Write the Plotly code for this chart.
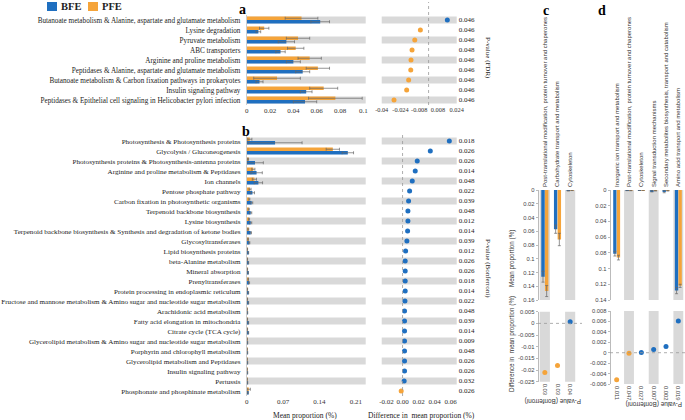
import plotly.graph_objects as go

W, H = 685, 420
BLUE = "#1F6FC0"
ORANGE = "#F5A43A"
GRAY = "#D9D9D9"
ERR = "#666666"
SERIF = "Liberation Serif, Times New Roman, serif"
SANS = "Liberation Sans, Arial, sans-serif"

# ---------------- legend ----------------
groups = ["BFE", "PFE"]
group_colors = [BLUE, ORANGE]

# ---------------- panel a ----------------
a_cats = ["Butanoate metabolism & Alanine, aspartate and glutamate metabolism",
          "Lysine degradation", "Pyruvate metabolism", "ABC transporters",
          "Arginine and proline metabolism",
          "Peptidases & Alanine, aspartate and glutamate metabolism",
          "Butanoate metabolism & Carbon fixation pathways in prokaryotes",
          "Insulin signaling pathway",
          "Peptidases & Epithelial cell signaling in Helicobacter pylori infection"]
a_bfe = [0.063, 0.010, 0.034, 0.029, 0.040, 0.048, 0.011, 0.051, 0.050]
a_bfe_err = [0.008, 0.002, 0.007, 0.004, 0.006, 0.006, 0.003, 0.005, 0.010]
a_pfe = [0.047, 0.015, 0.044, 0.042, 0.054, 0.061, 0.026, 0.066, 0.076]
a_pfe_err = [0.014, 0.004, 0.010, 0.007, 0.010, 0.010, 0.020, 0.012, 0.023]
a_diff = [0.016, -0.007, -0.0118, -0.0141, -0.015, -0.0152, -0.017, -0.0187, -0.0295]
a_p = ["0.046", "0.046", "0.046", "0.048", "0.046", "0.046", "0.046", "0.046", "0.046"]

# ---------------- panel b ----------------
b_cats = ["Photosynthesis & Photosynthesis proteins", "Glycolysis / Gluconeogenesis",
          "Photosynthesis proteins & Photosynthesis-antenna proteins",
          "Arginine and proline metabolism & Peptidases", "Ion channels",
          "Pentose phosphate pathway", "Carbon fixation in photosynthetic organisms",
          "Terpenoid backbone biosynthesis", "Lysine biosynthesis",
          "Terpenoid backbone biosynthesis & Synthesis and degradation of ketone bodies",
          "Glycosyltransferases", "Lipid biosynthesis proteins", "beta-Alanine metabolism",
          "Mineral absorption", "Prenyltransferases", "Protein processing in endoplasmic reticulum",
          "Fructose and mannose metabolism & Amino sugar and nucleotide sugar metabolism",
          "Arachidonic acid metabolism", "Fatty acid elongation in mitochondria",
          "Citrate cycle (TCA cycle)",
          "Glycerolipid metabolism & Amino sugar and nucleotide sugar metabolism",
          "Porphyrin and chlorophyll metabolism", "Glycerolipid metabolism and Peptidases",
          "Insulin signaling pathway", "Pertussis", "Phosphonate and phosphinate metabolism"]
b_bfe = [0.0546, 0.1946, 0.016, 0.019, 0.0225, 0.011, 0.0096, 0.0077, 0.0077, 0.0077,
         0.005, 0.003, 0.003, 0.0026, 0.0045, 0.003, 0.003, 0.0015, 0.003, 0.003,
         0.0015, 0.0015, 0.0015, 0.0015, 0.0015, 0.002]
b_bfe_err = [0.052, 0.011, 0.016, 0.011, 0.008, 0.004, 0.002, 0.002, 0.002, 0.0015,
             0.001, 0.0008, 0.0008, 0.0006, 0.001, 0.0008, 0.0008, 0.0005, 0.0008, 0.0008,
             0.0005, 0.0005, 0.0005, 0.0005, 0.0005, 0.0008]
b_pfe = [0.006, 0.1657, 0.0026, 0.0128, 0.0148, 0.0064, 0.005, 0.004, 0.0045, 0.003,
         0.0026, 0.0013, 0.0013, 0.0013, 0.003, 0.0013, 0.0013, 0.0008, 0.0013, 0.0013,
         0.0008, 0.0008, 0.0008, 0.0008, 0.0008, 0.004]
b_pfe_err = [0.004, 0.0128, 0.001, 0.003, 0.004, 0.002, 0.001, 0.001, 0.001, 0.001,
             0.0006, 0.0004, 0.0004, 0.0004, 0.0006, 0.0004, 0.0004, 0.0003, 0.0004, 0.0004,
             0.0003, 0.0003, 0.0003, 0.0003, 0.0003, 0.003]
b_diff = [0.0583, 0.0346, 0.0183, 0.0158, 0.0121, 0.0088, 0.0075, 0.0067, 0.0067, 0.0063,
          0.0054, 0.0038, 0.0033, 0.0033, 0.0033, 0.0033, 0.003, 0.0025, 0.0025, 0.0025,
          0.0025, 0.0025, 0.0025, 0.0025, 0.002, -0.0017]
b_p = ["0.018", "0.026", "0.026", "0.014", "0.048", "0.022", "0.039", "0.048", "0.012",
       "0.014", "0.039", "0.012", "0.026", "0.026", "0.018", "0.014", "0.022", "0.048",
       "0.039", "0.014", "0.009", "0.048", "0.026", "0.026", "0.032", "0.026"]

# ---------------- panel c ----------------
c_cats = ["Post-translational modification, protein turnover and chaperones",
          "Carbohydrate transport and metabolism", "Cytoskeleton"]
c_bfe = [0.126, 0.057, 0.001]
c_bfe_err = [0.008, 0.006, 0.0005]
c_pfe = [0.147, 0.072, 0.0005]
c_pfe_err = [0.008, 0.009, 0.0003]
c_diff = [-0.0211, -0.0181, 0.0007]
c_p = ["0.03", "0.03", "0.04"]

# ---------------- panel d ----------------
d_cats = ["Inorganic ion transport and metabolism",
          "Post-translational modification, protein turnover and chaperones ",
          "Cytoskeleton ", "Signal transduction mechanisms",
          "Secondary metabolites biosynthesis, transport and catabolism",
          "Amino acid transport and metabolism"]
d_bfe = [0.081, 0.0005, 0.0003, 0.0015, 0.002, 0.128]
d_bfe_err = [0.003, 0.0003, 0.0002, 0.001, 0.0015, 0.004]
d_pfe = [0.086, 0.0006, 0.0002, 0.0008, 0.0008, 0.122]
d_pfe_err = [0.003, 0.0003, 0.0002, 0.0005, 0.0005, 0.002]
d_diff = [-0.0052, -0.0001, 0.00005, 0.0006, 0.0012, 0.0061]
d_p = ["0.011", "0.047", "0.027", "0.007", "0.002", "0.019"]


def xd(a, b):
    return [a / W, b / W]


def yd(top, bottom):
    return [1 - bottom / H, 1 - top / H]


def px(x):
    return x / W


def py(y):
    return 1 - y / H


fig = go.Figure()
shapes = []
annots = []


def err(arr):
    return dict(type="data", array=arr, color=ERR, thickness=0.7, width=1.5)


def hpanel(cats, bfe, bfe_err, pfe, pfe_err, diff, xa, ya, xa2, ya2):
    fig.add_trace(go.Bar(y=cats, x=pfe, orientation="h", name="PFE", marker_color=ORANGE,
                         marker_line_width=0, width=0.33, offset=-0.34, error_x=err(pfe_err),
                         xaxis=xa, yaxis=ya, showlegend=False))
    fig.add_trace(go.Bar(y=cats, x=bfe, orientation="h", name="BFE", marker_color=BLUE,
                         marker_line_width=0, width=0.33, offset=0.01, error_x=err(bfe_err),
                         xaxis=xa, yaxis=ya, showlegend=False))
    fig.add_trace(go.Scatter(y=cats, x=diff, mode="markers",
                             marker=dict(size=5, color=[BLUE if v >= 0 else ORANGE for v in diff]),
                             xaxis=xa2, yaxis=ya2, showlegend=False))
    for i in range(0, len(cats), 2):
        for xr, yr in ((xa, ya), (xa2, ya2)):
            shapes.append(dict(type="rect", xref=xr + " domain", yref=yr, x0=0, x1=1,
                               y0=i - 0.36, y1=i + 0.36, fillcolor=GRAY, line_width=0,
                               layer="below"))


def vpanel(cats, bfe, bfe_err, pfe, pfe_err, diff, xa, ya, xa2, ya2):
    fig.add_trace(go.Bar(x=cats, y=bfe, name="BFE", marker_color=BLUE, marker_line_width=0,
                         width=0.27, offset=-0.28, error_y=err(bfe_err),
                         xaxis=xa, yaxis=ya, showlegend=False))
    fig.add_trace(go.Bar(x=cats, y=pfe, name="PFE", marker_color=ORANGE, marker_line_width=0,
                         width=0.27, offset=0.01, error_y=err(pfe_err),
                         xaxis=xa, yaxis=ya, showlegend=False))
    fig.add_trace(go.Scatter(x=cats, y=diff, mode="markers",
                             marker=dict(size=5, color=[BLUE if v >= 0 else ORANGE for v in diff]),
                             xaxis=xa2, yaxis=ya2, showlegend=False))


hpanel(a_cats, a_bfe, a_bfe_err, a_pfe, a_pfe_err, a_diff, "x", "y", "x2", "y2")
hpanel(b_cats, b_bfe, b_bfe_err, b_pfe, b_pfe_err, b_diff, "x3", "y3", "x4", "y4")
vpanel(c_cats, c_bfe, c_bfe_err, c_pfe, c_pfe_err, c_diff, "x5", "y5", "x6", "y6")
vpanel(d_cats, d_bfe, d_bfe_err, d_pfe, d_pfe_err, d_diff, "x7", "y7", "x8", "y8")

# gray columns for c and d
for i in (0, 2):
    for xr, yr in (("x5", "y5"), ("x6", "y6")):
        shapes.append(dict(type="rect", xref=xr, yref=yr + " domain", x0=i - 0.4, x1=i + 0.4,
                           y0=0, y1=1, fillcolor=GRAY, line_width=0, layer="below"))
for i in (1, 3, 5):
    for xr, yr in (("x7", "y7"), ("x8", "y8")):
        shapes.append(dict(type="rect", xref=xr, yref=yr + " domain", x0=i - 0.4, x1=i + 0.4,
                           y0=0, y1=1, fillcolor=GRAY, line_width=0, layer="below"))

# zero reference lines
shapes.append(dict(type="line", xref="x2", yref="paper", x0=0, x1=0, y0=py(105), y1=py(2),
                   line=dict(color="#999", width=0.8, dash="dot")))
shapes.append(dict(type="line", xref="x4", yref="paper", x0=0, x1=0, y0=py(396), y1=py(132),
                   line=dict(color="#999", width=0.8, dash="dot")))
shapes.append(dict(type="line", xref="paper", yref="y6", x0=px(538), x1=px(582), y0=0, y1=0,
                   line=dict(color="#999", width=0.8, dash="dot")))
shapes.append(dict(type="line", xref="paper", yref="y8", x0=px(610), x1=px(685), y0=0, y1=0,
                   line=dict(color="#999", width=0.8, dash="dot")))

# manual legend (squares + bold labels)
leg_x = [47, 88]
for gx, gname, gcol in zip(leg_x, groups, group_colors):
    shapes.append(dict(type="rect", xref="paper", yref="paper", x0=px(gx), x1=px(gx + 10),
                       y0=py(11), y1=py(2), fillcolor=gcol, line_width=0))
    annots.append(dict(text=gname, x=px(gx + 12), y=py(6.5), xref="paper", yref="paper",
                       showarrow=False, xanchor="left", yanchor="middle",
                       font=dict(family=SERIF, size=10.5, color="#222", weight="bold")))

tick_serif = dict(family=SERIF, size=7, color="#333")
tick_sans = dict(family=SANS, size=5.8, color="#444")
cat_sans = dict(family=SANS, size=6.0, color="#333")

base_x = dict(showgrid=False, zeroline=False, automargin=False, tickfont=tick_serif,
              ticks="", showline=False, tickangle=0)
base_y = dict(showgrid=False, zeroline=False, automargin=False, ticks="", showline=False)

na, nb = len(a_cats), len(b_cats)
layout_axes = dict(
    xaxis=dict(base_x, domain=xd(246.7, 365.7), range=[0, 0.102], anchor="y",
               tickvals=[0, 0.02, 0.04, 0.06, 0.08, 0.1],
               ticktext=["0", "0.02", "0.04", "0.06", "0.08", "0.1"]),
    yaxis=dict(base_y, domain=yd(15, 105), anchor="x", type="category", range=[na - 0.5, -0.5],
               tickfont=dict(family=SERIF, size=7.2, color="#222"), ticklabelstandoff=4,
               showline=True, linecolor="#ccc", linewidth=0.6),
    xaxis2=dict(base_x, domain=xd(381.7, 456.7), range=[-0.04, 0.024], anchor="y2",
                tickvals=[-0.04, -0.024, -0.008, 0.008, 0.024],
                ticktext=["-0.04", "-0.024", "-0.008", "0.008", "0.024"],
                tickfont=dict(family=SERIF, size=6.3, color="#333")),
    yaxis2=dict(base_y, domain=yd(15, 105), anchor="x2", side="right", type="category",
                range=[na - 0.5, -0.5], tickmode="array", tickvals=a_cats, ticktext=a_p,
                tickfont=dict(family=SERIF, size=7, color="#222"), ticklabelstandoff=1),
    xaxis3=dict(base_x, domain=xd(246.7, 365.7), range=[0, 0.229], anchor="y3",
                tickvals=[0, 0.07, 0.14, 0.21], ticktext=["0", "0.07", "0.14", "0.21"]),
    yaxis3=dict(base_y, domain=yd(136, 396), anchor="x3", type="category", range=[nb - 0.5, -0.5],
                tickfont=dict(family=SERIF, size=7.1, color="#222"), ticklabelstandoff=4,
                showline=True, linecolor="#ccc", linewidth=0.6),
    xaxis4=dict(base_x, domain=xd(381.7, 456.7), range=[-0.026, 0.0675], anchor="y4",
                tickvals=[-0.02, 0, 0.02, 0.04, 0.06],
                ticktext=["-0.02", "0.00", "0.02", "0.04", "0.06"]),
    yaxis4=dict(base_y, domain=yd(136, 396), anchor="x4", side="right", type="category",
                range=[nb - 0.5, -0.5], tickmode="array", tickvals=b_cats, ticktext=b_p,
                tickfont=dict(family=SERIF, size=7, color="#222"), ticklabelstandoff=1),
    # panel c
    xaxis5=dict(showgrid=False, zeroline=False, automargin=False, ticks="", domain=xd(538.5, 576.5),
                anchor="y5", side="top", type="category", tickangle=-90, range=[-0.5, 2.5],
                tickfont=cat_sans, ticklabelstandoff=2),
    yaxis5=dict(showgrid=False, zeroline=False, automargin=False, domain=yd(190, 300), anchor="x5",
                range=[0.16, 0], tickvals=[0, 0.02, 0.04, 0.06, 0.08, 0.1, 0.12, 0.14, 0.16],
                ticktext=["0", "0.02", "0.04", "0.06", "0.08", "0.1", "0.12", "0.14", "0.16"],
                tickfont=tick_sans, showline=True, linecolor="#bbb", linewidth=0.6,
                ticks="outside", ticklen=2, tickcolor="#bbb"),
    xaxis6=dict(showgrid=False, zeroline=False, automargin=False, ticks="", domain=xd(538.5, 576.5),
                anchor="y6", type="category", tickangle=90, range=[-0.5, 2.5], tickmode="array",
                tickvals=c_cats, ticktext=c_p, tickfont=tick_sans, ticklabelstandoff=1),
    yaxis6=dict(showgrid=False, zeroline=False, automargin=False, domain=yd(311.7, 381.7),
                anchor="x6", range=[-0.025, 0.005],
                tickvals=[0.005, 0, -0.005, -0.01, -0.015, -0.02, -0.025],
                ticktext=["0.005", "0", "-0.005", "-0.01", "-0.015", "-0.02", "-0.025"],
                tickfont=tick_sans, showline=True, linecolor="#bbb", linewidth=0.6,
                ticks="outside", ticklen=2, tickcolor="#bbb"),
    # panel d
    xaxis7=dict(showgrid=False, zeroline=False, automargin=False, ticks="", domain=xd(610.5, 684.5),
                anchor="y7", side="top", type="category", tickangle=-90, range=[-0.5, 5.5],
                tickfont=cat_sans, ticklabelstandoff=2),
    yaxis7=dict(showgrid=False, zeroline=False, automargin=False, domain=yd(190, 300), anchor="x7",
                range=[0.14, 0], tickvals=[0, 0.02, 0.04, 0.06, 0.08, 0.1, 0.12, 0.14],
                ticktext=["0", "0.02", "0.04", "0.06", "0.08", "0.1", "0.12", "0.14"],
                tickfont=tick_sans, showline=True, linecolor="#bbb", linewidth=0.6,
                ticks="outside", ticklen=2, tickcolor="#bbb"),
    xaxis8=dict(showgrid=False, zeroline=False, automargin=False, ticks="", domain=xd(610.5, 684.5),
                anchor="y8", type="category", tickangle=90, range=[-0.5, 5.5], tickmode="array",
                tickvals=d_cats, ticktext=d_p, tickfont=tick_sans, ticklabelstandoff=1),
    yaxis8=dict(showgrid=False, zeroline=False, automargin=False, domain=yd(311, 384),
                anchor="x8", range=[-0.006, 0.008],
                tickvals=[0.008, 0.006, 0.004, 0.002, 0, -0.002, -0.004, -0.006],
                ticktext=["0.008", "0.006", "0.004", "0.002", "0", "-0.002", "-0.004", "-0.006"],
                tickfont=tick_sans, showline=True, linecolor="#bbb", linewidth=0.6,
                ticks="outside", ticklen=2, tickcolor="#bbb"),
)


def ann(text, x, y, size=7, family=SERIF, angle=0, bold=False, color="#222"):
    annots.append(dict(text=text, x=px(x), y=py(y), xref="paper", yref="paper",
                       showarrow=False, textangle=angle, xanchor="center", yanchor="middle",
                       font=dict(family=family, size=size, color=color,
                                 weight="bold" if bold else "normal")))


ann("a", 243, 9, size=14, bold=True, color="#000")
ann("b", 246, 131, size=14, bold=True, color="#000")
ann("c", 546, 10, size=14, bold=True, color="#000")
ann("d", 602, 10, size=14, bold=True, color="#000")
ann("P-value (FDR)", 488, 58, size=7, angle=90)
ann("P-value (Bonferroni)", 488, 268, size=7, angle=90)
ann("Mean proportion (%)", 305, 415, size=7.5)
ann("Difference in  mean proportion (%)", 421, 415, size=7.5)
ann("Mean proportion (%)", 512, 258, size=6.3, family=SANS, angle=-90, color="#333")
ann("Difference in  mean proportion (%)", 512, 344, size=6.3, family=SANS, angle=-90, color="#333")
ann("P-value (Bonferroni)", 553, 401, size=6.3, family=SANS, angle=180, color="#333")
ann("P-value (Bonferroni)", 654, 404, size=6.3, family=SANS, angle=180, color="#333")

fig.update_layout(
    width=W, height=H, margin=dict(l=0, r=0, t=0, b=0),
    paper_bgcolor="white", plot_bgcolor="white",
    barmode="overlay", showlegend=False,
    shapes=shapes, annotations=annots,
    **layout_axes,
)

fig.write_html("out.html", config={"displayModeBar": False},
               post_script="document.body.style.margin='0px';document.body.style.overflow='hidden';")
